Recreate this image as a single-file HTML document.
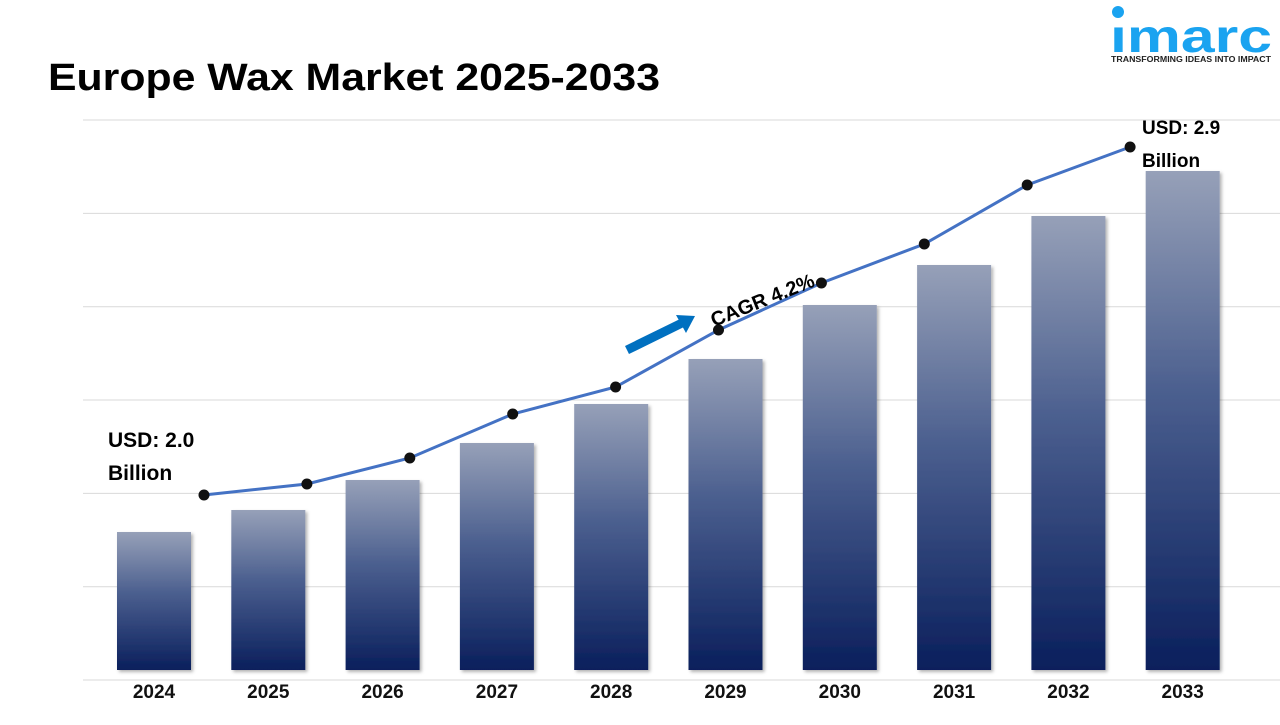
<!DOCTYPE html>
<html><head><meta charset="utf-8"><style>
body{margin:0;background:#fff;width:1280px;height:720px;overflow:hidden;font-family:"Liberation Sans",Arial,sans-serif}
</style></head><body>
<svg width="1280" height="720">
<defs><linearGradient id="bg" x1="0" y1="0" x2="0" y2="1"><stop offset="0" stop-color="#96a0b8"/><stop offset="0.45" stop-color="#4a5e8e"/><stop offset="1" stop-color="#0a1f5c"/></linearGradient>
<filter id="sh"><feDropShadow dx="2" dy="2" stdDeviation="1.5" flood-opacity="0.3"/></filter></defs>
<text x="48" y="90" font-size="38" font-weight="bold" fill="#000" textLength="612" lengthAdjust="spacingAndGlyphs">Europe Wax Market 2025-2033</text>
<g>
<circle cx="1118" cy="12" r="6" fill="#1aa3f0"/>
<text x="1110" y="52" font-size="46" font-weight="bold" fill="#1aa3f0" textLength="162" lengthAdjust="spacingAndGlyphs">ımarc</text>
<text x="1111" y="62" font-size="8" font-weight="bold" fill="#222" textLength="160" lengthAdjust="spacingAndGlyphs">TRANSFORMING IDEAS INTO IMPACT</text>
</g>
<g id="grid"></g><g id="bars"></g><g id="line"></g><g id="xl"></g>
<g>
<line x1="627" y1="350" x2="682" y2="323" stroke="#0070c0" stroke-width="9"/>
<polygon points="695,316 676,315 686,333" fill="#0070c0"/>
<text transform="translate(714,327) rotate(-22)" font-size="20" font-weight="bold" fill="#000">CAGR 4.2%</text>
</g>
<text x="108" y="447" font-size="21" font-weight="bold">USD: 2.0</text>
<text x="108" y="480" font-size="21" font-weight="bold">Billion</text>
<text x="1142" y="134" font-size="19" font-weight="bold">USD: 2.9</text>
<text x="1142" y="167" font-size="19" font-weight="bold">Billion</text>
</svg>
<script>
const categories=["2024","2025","2026","2027","2028","2029","2030","2031","2032","2033"];
const barValues=[1.38,1.60,1.90,2.27,2.66,3.11,3.65,4.05,4.54,4.99];
const lineValues=[1.75,1.86,2.12,2.56,2.83,3.40,3.87,4.26,4.85,5.23];
const gridTicks=[0,0.933,1.866,2.8,3.733,4.666,5.6];
const NS="http://www.w3.org/2000/svg";
const y=v=>670-v*100;
const xb=i=>154+i*114.3;
const xl=i=>204+i*102.9;
function mk(t,a,p){const e=document.createElementNS(NS,t);for(const k in a)e.setAttribute(k,a[k]);document.getElementById(p).appendChild(e);return e;}
gridTicks.forEach((v,i)=>{const l=mk('line',{x1:83,x2:1280,y1:680-v*100,y2:680-v*100,stroke:'#d9d9d9','stroke-width':1},'grid');

});
barValues.forEach((v,i)=>{const r=mk('rect',{x:xb(i)-37,y:y(v),width:74,height:v*100,fill:'url(#bg)',filter:'url(#sh)'},'bars');


const t=mk('text',{x:xb(i),y:698,'text-anchor':'middle','font-size':19,'font-weight':'bold',fill:'#111'},'xl');t.textContent=categories[i];

});
const pl=mk('polyline',{points:lineValues.map((v,i)=>xl(i)+','+y(v)).join(' '),fill:'none',stroke:'#4472c4','stroke-width':3},'line');


lineValues.forEach((v,i)=>{const c=mk('circle',{cx:xl(i),cy:y(v),r:5.5,fill:'#111'},'line');

});
</script>
</body></html>
